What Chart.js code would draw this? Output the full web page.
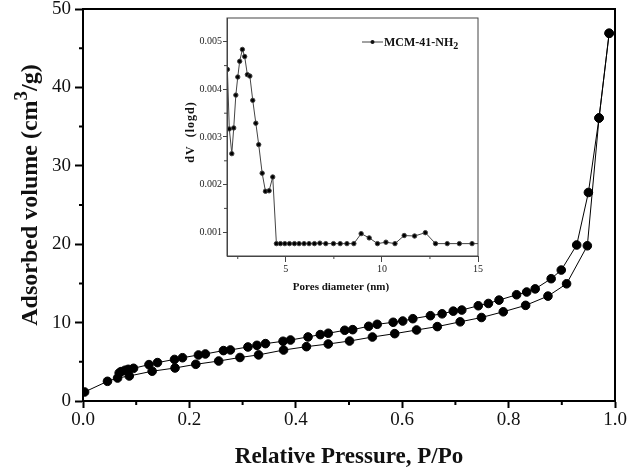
<!DOCTYPE html>
<html>
<head>
<meta charset="utf-8">
<script src="https://cdn.jsdelivr.net/npm/chart.js@4"></script>
<style>
  html, body { margin: 0; padding: 0; background: #fff; }
  #wrap { position: relative; width: 630px; height: 473px; }
  #main { position: absolute; left: 0; top: 0; }
  #inset { position: absolute; left: 160px; top: 10px; }
</style>
</head>
<body>
<div id="wrap">
  <canvas id="main" width="630" height="473"></canvas>
  <canvas id="inset" width="340" height="295"></canvas>
</div>
<script>
// N2 isotherm, adsorption branch (P/Po, cm3/g)
const adsP = [0.003, 0.046, 0.065, 0.087, 0.130, 0.173, 0.212, 0.255, 0.295, 0.330, 0.377, 0.420,
  0.461, 0.501, 0.544, 0.586, 0.627, 0.666, 0.709, 0.749, 0.790, 0.832, 0.874, 0.909, 0.948, 0.970, 0.989];
const adsV = [1.15, 2.51, 2.93, 3.19, 3.80, 4.21, 4.68, 5.10, 5.55, 5.88, 6.50, 6.93,
  7.27, 7.65, 8.16, 8.59, 9.06, 9.49, 10.10, 10.65, 11.38, 12.20, 13.38, 14.95, 19.8, 36.1, 46.9];

// desorption branch
const desP = [0.989, 0.970, 0.950, 0.928, 0.899, 0.880, 0.850, 0.834, 0.815, 0.782, 0.762, 0.743,
  0.712, 0.696, 0.675, 0.653, 0.620, 0.601, 0.583, 0.553, 0.537, 0.507, 0.492, 0.461, 0.446, 0.423,
  0.390, 0.376, 0.343, 0.327, 0.310, 0.277, 0.264, 0.230, 0.217, 0.187, 0.172, 0.140, 0.124, 0.095,
  0.085, 0.079, 0.0715, 0.068];
const desV = [46.9, 36.1, 26.6, 19.9, 16.7, 15.6, 14.3, 13.9, 13.55, 12.87, 12.44, 12.15,
  11.6, 11.46, 11.12, 10.88, 10.5, 10.2, 10.04, 9.78, 9.53, 9.1, 9.02, 8.64, 8.47, 8.17,
  7.78, 7.62, 7.32, 7.10, 6.89, 6.51, 6.43, 6.0, 5.87, 5.52, 5.3, 4.9, 4.64, 4.17,
  4.04, 3.92, 3.75, 3.57];

// pore size distribution (inset)
const poreD = [1.96, 2.06, 2.19, 2.29, 2.40, 2.50, 2.60, 2.74, 2.86, 3.00, 3.13, 3.28, 3.44, 3.59,
  3.77, 3.94, 4.13, 4.32, 4.51, 4.72, 4.95, 5.19, 5.45, 5.69, 5.95, 6.21, 6.49, 6.77, 7.08, 7.48,
  7.83, 8.18, 8.54, 8.92, 9.34, 9.77, 10.21, 10.68, 11.16, 11.70, 12.26, 12.79, 13.40, 14.03, 14.69, 15.30];
const poreDV = [0.00442, 0.00317, 0.00265, 0.00319, 0.00388, 0.00426, 0.00459, 0.00484, 0.00469, 0.00431,
  0.00428, 0.00377, 0.00329, 0.00284, 0.00224, 0.00186, 0.00187, 0.00216, 0.00076, 0.00076, 0.00076,
  0.00076, 0.00076, 0.00076, 0.00076, 0.00076, 0.00076, 0.00077, 0.00076, 0.00076, 0.00076, 0.00076,
  0.00076, 0.00097, 0.00088, 0.00076, 0.00079, 0.00076, 0.00093, 0.00092, 0.00099, 0.00076, 0.00076,
  0.00076, 0.00076, 0.00076];

const xTicks = [0, 0.2, 0.4, 0.6, 0.8, 1.0];
const xMinor = [0.1, 0.3, 0.5, 0.7, 0.9];
const yTicks = [0, 10, 20, 30, 40, 50];
const yMinor = [5, 15, 25, 35, 45];
const insetXTicks = [5, 10, 15];
const insetXMinor = [2.5, 7.5, 12.5];
const insetYTicks = [0.001, 0.002, 0.003, 0.004, 0.005];
const insetYMinor = [0.0015, 0.0025, 0.0035, 0.0045];

const SERIF = "'Liberation Serif', 'Times New Roman', serif";

function zip(xs, ys) {
  return xs.map((x, i) => ({ x: x, y: ys[i] }));
}

function fixTicks(values) {
  return scale => { scale.ticks = values.map(v => ({ value: v })); };
}

// fixed axis sizes, no extra room for edge labels
function fitX(h) {
  return s => { s.height = h; s.paddingLeft = 0; s.paddingRight = 0; };
}
function fitY(w) {
  return s => { s.width = w; s.paddingTop = 0; s.paddingBottom = 0; };
}

// frame, minor ticks and hand drawn titles
function decorPlugin(cfg) {
  return {
    id: 'decor',
    afterDraw(chart) {
      const ctx = chart.ctx;
      const a = chart.chartArea;
      const xs = chart.scales.x, ys = chart.scales.y;
      ctx.save();
      ctx.strokeStyle = cfg.frameColor;
      ctx.lineWidth = cfg.frameWidth;
      ctx.strokeRect(a.left, a.top, a.right - a.left, a.bottom - a.top);

      ctx.lineWidth = cfg.tickWidth;
      ctx.beginPath();
      cfg.xMinor.forEach(v => {
        const px = xs.getPixelForValue(v);
        ctx.moveTo(px, a.bottom);
        ctx.lineTo(px, a.bottom + cfg.minorLen);
      });
      cfg.yMinor.forEach(v => {
        const py = ys.getPixelForValue(v);
        ctx.moveTo(a.left, py);
        ctx.lineTo(a.left - cfg.minorLen, py);
      });
      ctx.stroke();
      ctx.restore();
      if (cfg.extra) cfg.extra(chart, ctx);
    }
  };
}

// main isotherm
new Chart(document.getElementById('main'), {
  type: 'scatter',
  data: {
    datasets: [
      {
        label: 'Adsorption',
        data: zip(adsP, adsV),
        showLine: true,
        borderColor: '#000',
        borderWidth: 1,
        backgroundColor: '#000',
        pointRadius: 4.3,
        pointHoverRadius: 4.3
      },
      {
        label: 'Desorption',
        data: zip(desP, desV),
        showLine: true,
        borderColor: '#000',
        borderWidth: 1,
        backgroundColor: '#000',
        pointRadius: 4.3,
        pointHoverRadius: 4.3
      }
    ]
  },
  options: {
    responsive: false,
    animation: false,
    devicePixelRatio: 1,
    layout: { padding: { left: 0, top: 9, right: 15, bottom: 0 } },
    plugins: { legend: { display: false }, tooltip: { enabled: false } },
    scales: {
      x: {
        type: 'linear',
        min: 0,
        max: 1,
        afterBuildTicks: fixTicks(xTicks),
        afterFit: fitX(72),
        border: { display: true, color: '#000', width: 2 },
        grid: { drawOnChartArea: false, drawTicks: true, tickLength: 7, tickWidth: 2, tickColor: '#000' },
        ticks: {
          color: '#111',
          padding: 1,
          font: { family: SERIF, size: 19 },
          callback: v => v.toFixed(1)
        },
        title: {
          display: true,
          text: 'Relative Pressure, P/Po',
          color: '#111',
          padding: { top: 0, bottom: 2 },
          font: { family: SERIF, size: 23, weight: 'bold' }
        }
      },
      y: {
        type: 'linear',
        min: 0,
        max: 50,
        afterBuildTicks: fixTicks(yTicks),
        afterFit: fitY(83),
        border: { display: true, color: '#000', width: 2 },
        grid: { drawOnChartArea: false, drawTicks: true, tickLength: 8, tickWidth: 2, tickColor: '#000' },
        ticks: {
          color: '#111',
          padding: 4,
          font: { family: SERIF, size: 19 },
          callback: v => String(v)
        }
      }
    }
  },
  plugins: [decorPlugin({
    frameColor: '#000', frameWidth: 2, tickWidth: 2, minorLen: 4,
    xMinor: xMinor, yMinor: yMinor,
    extra: (chart, ctx) => {
      // y title with a raised 3
      const a = chart.chartArea;
      const big = 'bold 24px ' + SERIF;
      const small = 'bold 19px ' + SERIF;
      const parts = [['Adsorbed volume (cm', big, 0], ['3', small, -10], ['/g)', big, 0]];
      ctx.save();
      let total = 0;
      parts.forEach(p => { ctx.font = p[1]; total += ctx.measureText(p[0]).width; });
      ctx.translate(37, (a.top + a.bottom) / 2 - 10);
      ctx.rotate(-Math.PI / 2);
      ctx.fillStyle = '#111';
      ctx.textBaseline = 'alphabetic';
      let u = -total / 2;
      parts.forEach(p => {
        ctx.font = p[1];
        ctx.fillText(p[0], u, p[2]);
        u += ctx.measureText(p[0]).width;
      });
      ctx.restore();
    }
  })]
});

// inset: pore size distribution
new Chart(document.getElementById('inset'), {
  type: 'scatter',
  data: {
    datasets: [{
      label: 'MCM-41-NH2',
      data: zip(poreD, poreDV),
      showLine: true,
      borderColor: '#444',
      borderWidth: 1,
      backgroundColor: '#000',
      pointRadius: 2.2,
      pointHoverRadius: 2.2,
      clip: 0
    }]
  },
  options: {
    responsive: false,
    animation: false,
    devicePixelRatio: 1,
    layout: { padding: { left: 0, top: 8, right: 22, bottom: 0 } },
    plugins: { legend: { display: false }, tooltip: { enabled: false } },
    scales: {
      x: {
        type: 'linear',
        min: 1.94,
        max: 15,
        afterBuildTicks: fixTicks(insetXTicks),
        afterFit: fitX(49),
        border: { display: true, color: '#444', width: 1 },
        grid: { drawOnChartArea: false, drawTicks: true, tickLength: 6, tickWidth: 1, tickColor: '#444' },
        ticks: {
          color: '#222',
          padding: 1,
          font: { family: SERIF, size: 10 },
          callback: v => String(v)
        }
      },
      y: {
        type: 'linear',
        min: 0.0005,
        max: 0.0055,
        afterBuildTicks: fixTicks(insetYTicks),
        afterFit: fitY(67),
        border: { display: true, color: '#444', width: 1 },
        grid: { drawOnChartArea: false, drawTicks: true, tickLength: 4, tickWidth: 1, tickColor: '#444' },
        ticks: {
          color: '#222',
          padding: 1,
          font: { family: SERIF, size: 10 },
          callback: v => v.toFixed(3)
        }
      }
    }
  },
  plugins: [decorPlugin({
    frameColor: '#444', frameWidth: 1, tickWidth: 1, minorLen: 3,
    xMinor: insetXMinor, yMinor: insetYMinor,
    extra: (chart, ctx) => {
      ctx.save();
      ctx.fillStyle = '#111';
      // x title
      ctx.font = 'bold 11px ' + SERIF;
      ctx.textAlign = 'center';
      ctx.textBaseline = 'middle';
      ctx.fillText('Pores diameter (nm)', 181, 277);
      // y title
      ctx.save();
      ctx.translate(31, 122);
      ctx.rotate(-Math.PI / 2);
      ctx.font = 'bold 12px ' + SERIF;
      ctx.letterSpacing = '1px';
      ctx.fillText('dV  (logd)', 0, 0);
      ctx.restore();
      // legend
      ctx.strokeStyle = '#444';
      ctx.lineWidth = 1;
      ctx.beginPath();
      ctx.moveTo(202, 32);
      ctx.lineTo(223, 32);
      ctx.stroke();
      ctx.beginPath();
      ctx.arc(212.5, 32, 2, 0, Math.PI * 2);
      ctx.fill();
      ctx.textAlign = 'left';
      ctx.textBaseline = 'alphabetic';
      ctx.font = 'bold 12px ' + SERIF;
      ctx.fillText('MCM-41-NH', 224, 36);
      const w = ctx.measureText('MCM-41-NH').width;
      ctx.font = 'bold 10px ' + SERIF;
      ctx.fillText('2', 224 + w, 39);
      ctx.restore();
    }
  })]
});
</script>
</body>
</html>
